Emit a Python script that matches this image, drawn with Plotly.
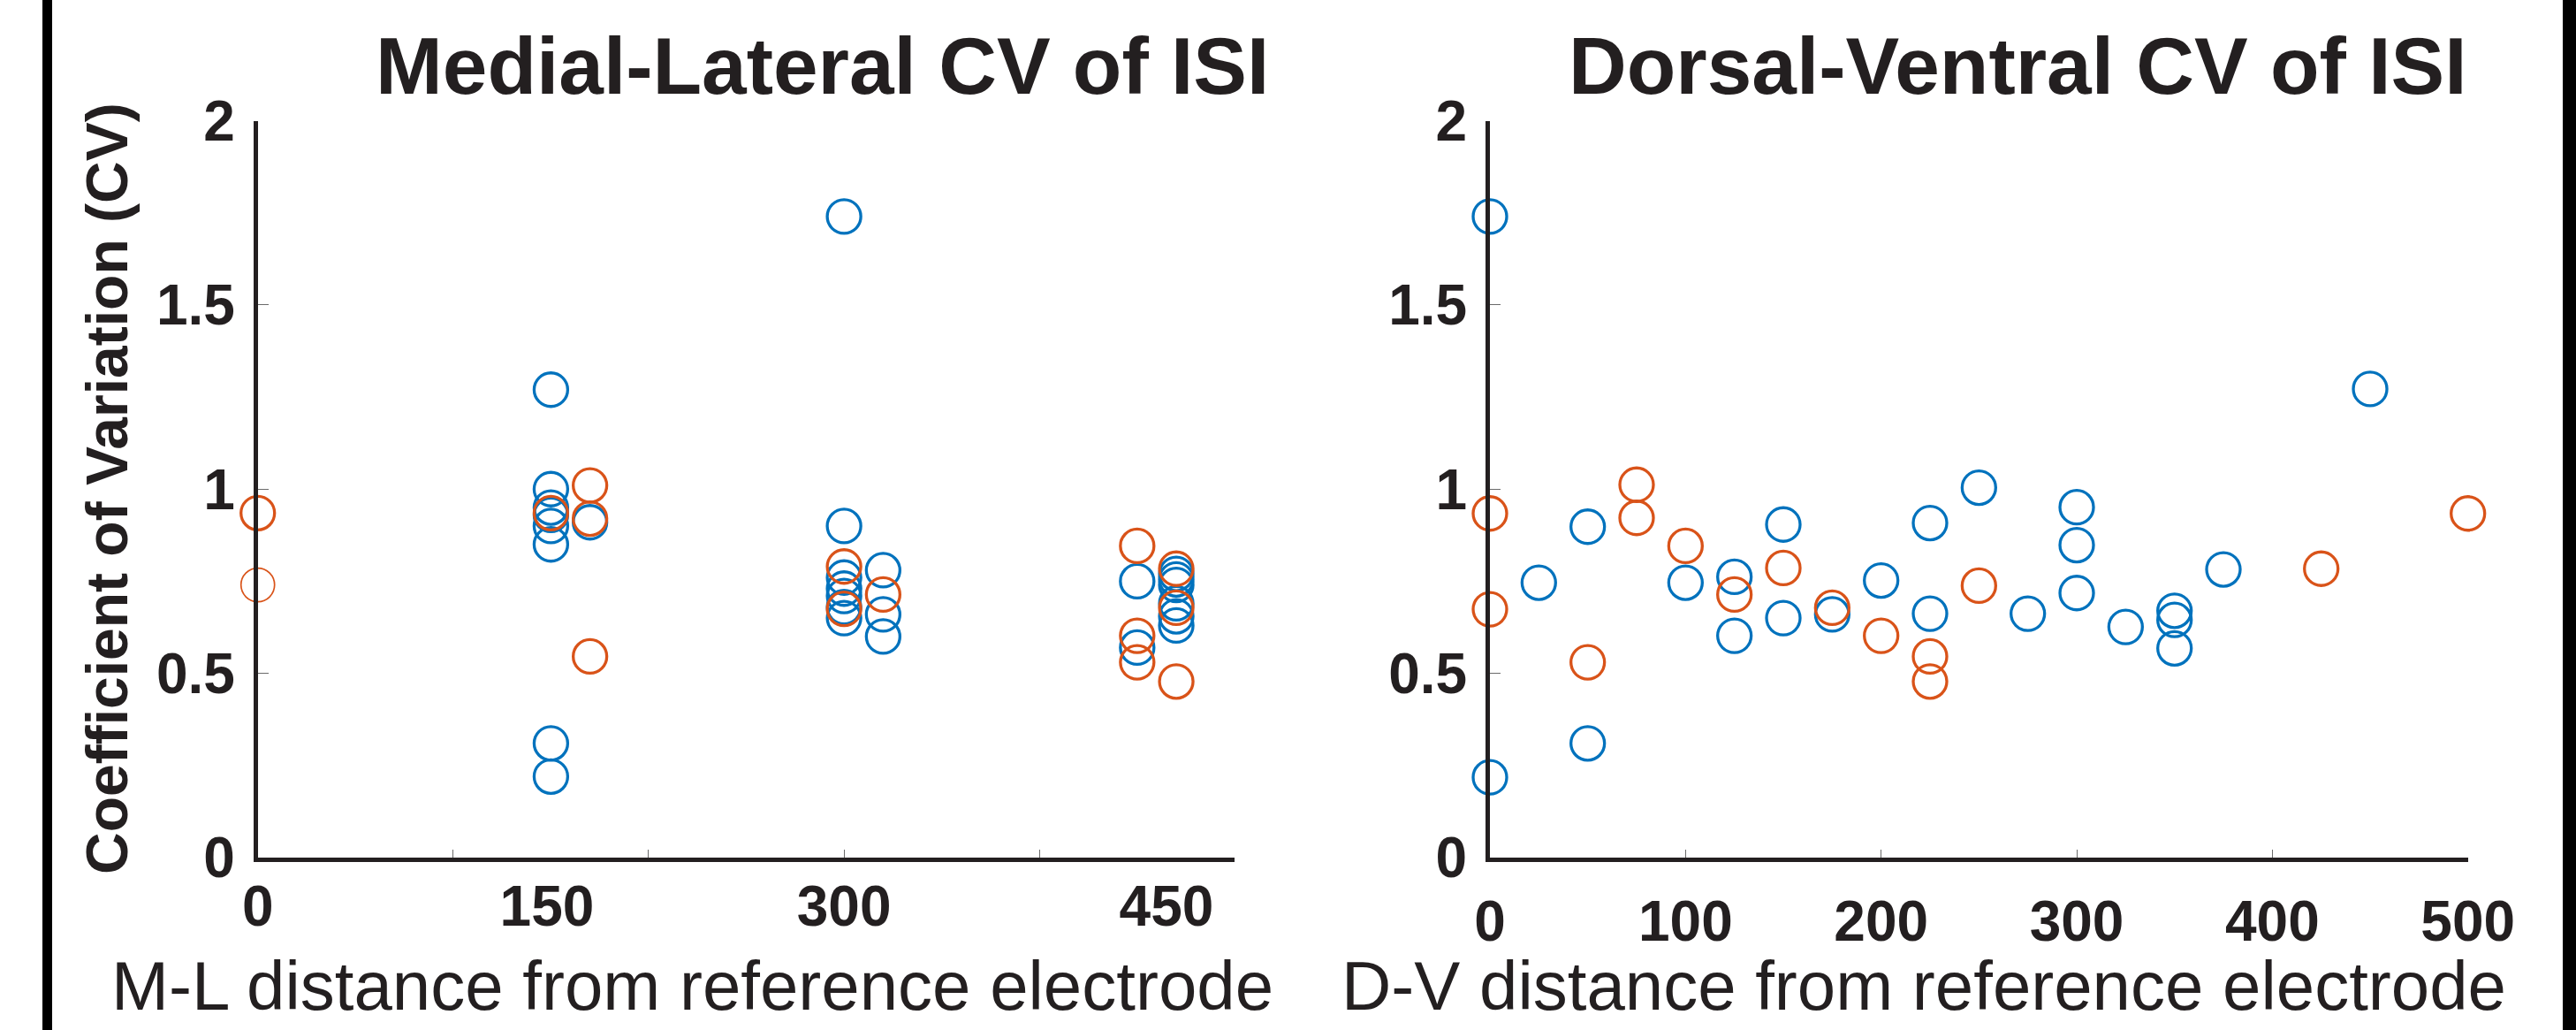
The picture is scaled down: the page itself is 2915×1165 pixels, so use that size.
import plotly.graph_objects as go

# ---------------- data ----------------
# Medial-Lateral panel
ml_blue_x = [150, 150, 150, 150, 150, 150, 150, 150,
             170,
             300, 300, 300, 300, 300, 300, 300,
             320, 320, 320,
             450, 450,
             470, 470, 470, 470, 470, 470]
ml_blue_y = [1.27, 1.00, 0.95, 0.93, 0.90, 0.85, 0.31, 0.22,
             0.91,
             1.74, 0.90, 0.76, 0.73, 0.71, 0.68, 0.65,
             0.78, 0.66, 0.60,
             0.75, 0.57,
             0.77, 0.755, 0.74, 0.69, 0.655, 0.63]
ml_orange_x = [0, 150, 170, 170, 170, 300, 300, 320, 450, 450, 450, 470, 470, 470]
ml_orange_y = [0.935, 0.935, 1.01, 0.92, 0.546, 0.79, 0.675, 0.714,
               0.846, 0.602, 0.53, 0.784, 0.678, 0.478]
ml_orange_faint_x = [0]
ml_orange_faint_y = [0.74]

# Dorsal-Ventral panel
dv_blue_x = [0, 0, 25, 50, 50, 100, 125, 125, 150, 150, 175, 200, 225, 225,
             250, 275, 300, 300, 300, 325, 350, 350, 350, 375, 450]
dv_blue_y = [1.74, 0.218, 0.746, 0.898, 0.31, 0.746, 0.762, 0.602, 0.904, 0.65,
             0.66, 0.752, 0.908, 0.662, 1.004, 0.662, 0.951, 0.848, 0.718,
             0.626, 0.67, 0.645, 0.568, 0.782, 1.272]
dv_orange_x = [0, 0, 50, 75, 75, 100, 125, 150, 175, 200, 225, 225, 250, 425, 500]
dv_orange_y = [0.934, 0.674, 0.53, 1.012, 0.922, 0.846, 0.714, 0.786, 0.678,
               0.602, 0.546, 0.478, 0.738, 0.784, 0.934]

# ticks / labels
y_ticks = [0, 0.5, 1, 1.5, 2]
y_tick_labels = ["0", "0.5", "1", "1.5", "2"]
x_minor_ticks = [0, 100, 200, 300, 400, 500]
ml_tick_labels = ["0", "150", "300", "450"]
ml_tick_positions = [0, 148, 300, 465]
dv_tick_labels = ["0", "100", "200", "300", "400", "500"]

ml_title = "Medial-Lateral CV of ISI"
dv_title = "Dorsal-Ventral CV of ISI"
ml_xlabel = "M-L distance from reference electrode"
dv_xlabel = "D-V distance from reference electrode"
ylabel = "Coefficient of Variation (CV)"

# ---------------- style ----------------
W, H = 2915, 1165
BLUE = "#0072BD"
ORANGE = "#D95319"
INK = "#231f20"
FONT = "Liberation Sans, Arial, Helvetica, sans-serif"
MSIZE = 38
MLW = 3.3


def px_x(p):
    return p / W


def px_y(p):
    return 1 - p / H


fig = go.Figure()


def circles(x, y, color, xa, ya, lw=MLW):
    fig.add_trace(go.Scatter(
        x=x, y=y, mode="markers", xaxis=xa, yaxis=ya, cliponaxis=False,
        showlegend=False, hoverinfo="skip",
        marker=dict(symbol="circle-open", size=MSIZE, color=color,
                    line=dict(width=lw, color=color))))


circles(ml_blue_x, ml_blue_y, BLUE, "x", "y")
circles(ml_orange_faint_x, ml_orange_faint_y, ORANGE, "x", "y", lw=1.7)
circles(ml_orange_x, ml_orange_y, ORANGE, "x", "y")
circles(dv_blue_x, dv_blue_y, BLUE, "x2", "y2")
circles(dv_orange_x, dv_orange_y, ORANGE, "x2", "y2")

ydom = [px_y(970), px_y(136.5)]
xdom1 = [px_x(291.7), px_x(1397.4)]
xdom2 = [px_x(1686), px_x(2792.7)]

tickfont = dict(family=FONT, size=64, color=INK, weight="bold")

yaxis_common = dict(range=[0, 2], tickvals=y_ticks, ticktext=y_tick_labels,
                    ticks="inside", ticklen=12, tickwidth=1, tickcolor="#6b6b6b",
                    showline=True, linewidth=5, linecolor=INK, showgrid=False,
                    zeroline=False, tickfont=tickfont, ticklabelstandoff=8,
                    domain=ydom, fixedrange=True, automargin=False)

xaxis_common = dict(range=[0, 500], ticks="inside", ticklen=9, tickwidth=1,
                    tickcolor="#6b6b6b", showline=True, linewidth=5,
                    linecolor=INK, showgrid=False, zeroline=False,
                    tickvals=x_minor_ticks, fixedrange=True, automargin=False)

fig.update_layout(
    width=W, height=H, autosize=False,
    margin=dict(l=0, r=0, t=0, b=0, pad=0),
    paper_bgcolor="white", plot_bgcolor="white",
    font=dict(family=FONT, color=INK),
    xaxis=dict(**xaxis_common, domain=xdom1, anchor="y", showticklabels=False),
    xaxis3=dict(range=[0, 500], overlaying="x", anchor="y", side="bottom",
                tickvals=ml_tick_positions, ticktext=ml_tick_labels,
                ticks="", showline=False, showgrid=False, zeroline=False,
                tickfont=tickfont, ticklabelstandoff=12, fixedrange=True,
                automargin=False),
    yaxis=dict(**yaxis_common, anchor="x"),
    xaxis2=dict(**xaxis_common, domain=xdom2, anchor="y2",
                ticktext=dv_tick_labels, tickfont=tickfont, ticklabelstandoff=12),
    yaxis2=dict(**yaxis_common, anchor="x2"),
)

# dummy trace to activate overlay axis for ML tick labels
fig.add_trace(go.Scatter(x=[None], y=[None], xaxis="x3", yaxis="y",
                         showlegend=False, hoverinfo="skip"))

ann = []
ann.append(dict(text=ml_title, x=px_x(930), y=px_y(74), xref="paper", yref="paper",
                showarrow=False, xanchor="center", yanchor="middle",
                font=dict(family=FONT, size=91, color=INK, weight="bold")))
ann.append(dict(text=dv_title, x=px_x(2283), y=px_y(74), xref="paper", yref="paper",
                showarrow=False, xanchor="center", yanchor="middle",
                font=dict(family=FONT, size=91, color=INK, weight="bold")))
ann.append(dict(text=ml_xlabel, x=px_x(783), y=px_y(1115), xref="paper", yref="paper",
                showarrow=False, xanchor="center", yanchor="middle",
                font=dict(family=FONT, size=78, color=INK)))
ann.append(dict(text=dv_xlabel, x=px_x(2177), y=px_y(1115), xref="paper", yref="paper",
                showarrow=False, xanchor="center", yanchor="middle",
                font=dict(family=FONT, size=78, color=INK)))
ann.append(dict(text=ylabel, x=px_x(121), y=px_y(553), xref="paper", yref="paper",
                showarrow=False, xanchor="center", yanchor="middle", textangle=-90,
                font=dict(family=FONT, size=66, color=INK, weight="bold")))
fig.update_layout(annotations=ann)

# frame edges of the figure panel
fig.add_shape(type="rect", xref="paper", yref="paper", x0=px_x(48), x1=px_x(59),
              y0=0, y1=1, fillcolor="black", line=dict(width=0))
fig.add_shape(type="rect", xref="paper", yref="paper", x0=px_x(2900), x1=1,
              y0=0, y1=1, fillcolor="black", line=dict(width=0))

fig.write_html("out.html")
